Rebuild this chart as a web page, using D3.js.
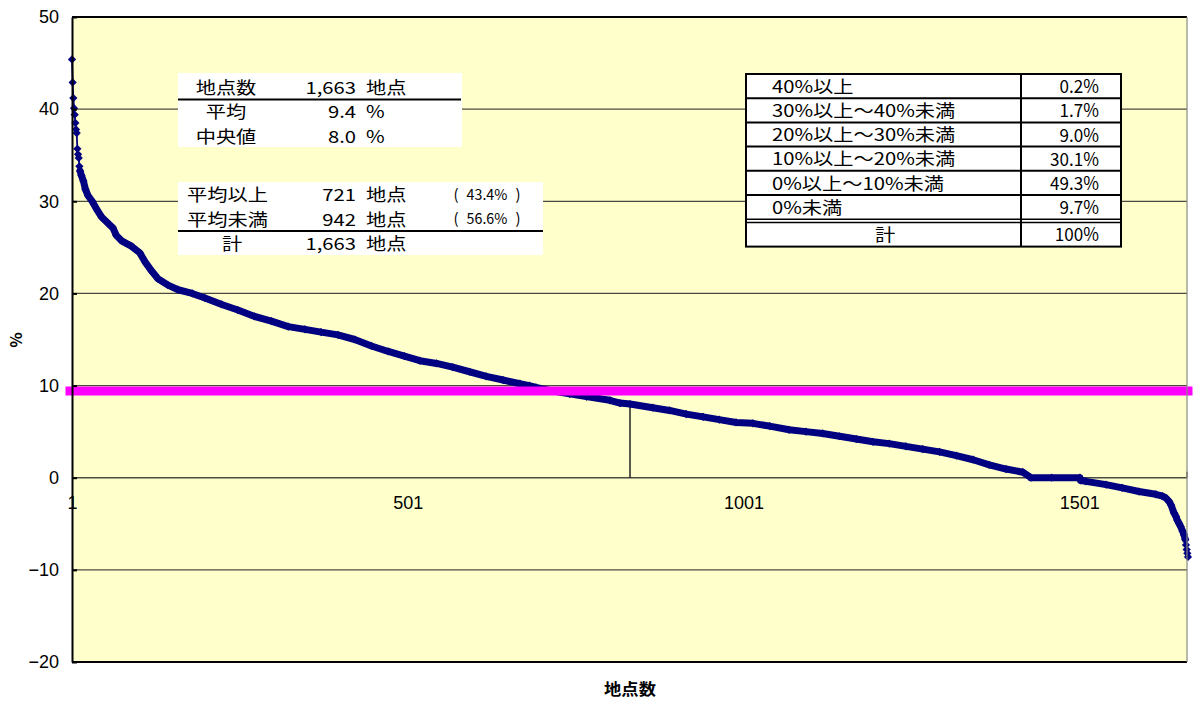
<!DOCTYPE html>
<html>
<head>
<meta charset="utf-8">
<script src="https://cdn.jsdelivr.net/npm/d3@7"></script>
<style>
  html, body { margin: 0; padding: 0; background: #fff; }
  svg { display: block; }
</style>
</head>
<body>
<svg id="chart" width="1195" height="702"></svg>
<script>
// Sites ranked by rate of change (descending) and the rate at each rank (%)
const siteRank = [
  1, 2, 3, 4, 5, 6, 7, 8, 9, 10, 11, 12, 13, 15, 18, 21, 25, 31, 38, 45,
  55, 62, 67, 75, 90, 102, 110, 120, 129, 144, 159, 180, 199, 224, 248, 273, 298, 323, 348, 372,
  397, 422, 447, 472, 496, 519, 544, 568, 593, 618, 643, 668, 682, 692, 717, 742, 767, 802, 817, 832,
  866, 891, 916, 941, 965, 990, 1015, 1040, 1069, 1094, 1119, 1144, 1169, 1194, 1218, 1243, 1268, 1293, 1318, 1343,
  1367, 1392, 1417, 1429, 1460, 1502, 1503, 1511, 1541, 1565, 1590, 1615, 1625, 1630, 1635, 1638, 1642, 1645, 1647, 1650,
  1652, 1655, 1657, 1659, 1660, 1661, 1662, 1663
];
const changeRate = [
  45.4, 42.9, 41.2, 40.1, 39.4, 38.5, 37.8, 37.4, 35.7, 35.1, 34.7, 33.8, 33.3, 32.8, 32.2, 31.3, 30.6, 30.0, 29.1, 28.3,
  27.6, 27.1, 26.3, 25.7, 25.1, 24.4, 23.4, 22.4, 21.6, 20.9, 20.4, 20.0, 19.5, 18.8, 18.2, 17.5, 17.0, 16.4, 16.1, 15.8,
  15.5, 15.0, 14.3, 13.7, 13.2, 12.7, 12.4, 12.0, 11.5, 11.0, 10.6, 10.2, 10.0, 9.8, 9.4, 9.1, 8.8, 8.4, 8.1, 8.0,
  7.6, 7.3, 6.9, 6.6, 6.3, 6.0, 5.9, 5.6, 5.2, 5.0, 4.8, 4.5, 4.2, 3.9, 3.7, 3.4, 3.1, 2.8, 2.4, 1.95,
  1.4, 0.94, 0.6, 0.0, 0.0, 0.0, -0.3, -0.4, -0.75, -1.1, -1.5, -1.8, -2.0, -2.2, -2.6, -3.0, -3.8, -4.2, -4.6, -5.0,
  -5.3, -5.8, -6.2, -6.7, -7.3, -7.8, -8.2, -8.6
];

const siteCount = 1663;
const meanRate = 9.4;
const medianRate = 8.0;
const medianRank = 832;

const yTickValues = [-20, -10, 0, 10, 20, 30, 40, 50];
const gridValues = [-10, 10, 20, 30, 40];
const xTickValues = [1, 501, 1001, 1501];

// Summary box
const summaryLabels = ["地点数", "平均", "中央値"];
const summaryValues = ["1,663", "9.4", "8.0"];
const summaryUnits = ["地点", "%", "%"];

// Above / below the mean
const splitLabels = ["平均以上", "平均未満", "計"];
const splitCounts = ["721", "942", "1,663"];
const splitShares = ["43.4%", "56.6%", ""];

// Share of sites in each band
const bandLabels = ["40%以上", "30%以上～40%未満", "20%以上～30%未満", "10%以上～20%未満", "0%以上～10%未満", "0%未満", "計"];
const bandShares = ["0.2%", "1.7%", "9.0%", "30.1%", "49.3%", "9.7%", "100%"];

const svg = d3.select("#chart");
const JP = "'Noto Sans CJK JP', 'Noto Sans', sans-serif";
const AR = "'Liberation Sans', Arial, sans-serif";

const plot = { left: 72, right: 1187, top: 17, bottom: 662 };

const x = d3.scaleLinear().domain([1, siteCount]).range([72, 1188]);
const y = d3.scaleLinear().domain([-20, 50]).range([plot.bottom, plot.top]);

// plot area
svg.append("rect")
  .attr("x", plot.left).attr("y", plot.top)
  .attr("width", plot.right - plot.left).attr("height", plot.bottom - plot.top)
  .attr("fill", "#FFFFCC");

// x axis labels (under everything else)
const xAxis = svg.append("g")
  .attr("transform", `translate(0,${y(0)})`)
  .call(d3.axisBottom(x).tickValues(xTickValues).tickSize(0).tickPadding(19).tickFormat(d3.format("d")));
xAxis.select(".domain").remove();
xAxis.selectAll(".tick text")
  .attr("font-family", AR).attr("font-size", 18).attr("fill", "#000");

// horizontal gridlines
svg.append("g").selectAll("line").data(gridValues).join("line")
  .attr("x1", plot.left).attr("x2", plot.right)
  .attr("y1", d => y(d)).attr("y2", d => y(d))
  .attr("stroke", "#4a4a42").attr("stroke-width", 1.2);

// zero line (category axis)
svg.append("line")
  .attr("x1", plot.left).attr("x2", plot.right)
  .attr("y1", y(0)).attr("y2", y(0))
  .attr("stroke", "#4a4a42").attr("stroke-width", 1.4);
svg.append("line")
  .attr("x1", plot.right).attr("x2", plot.right)
  .attr("y1", y(0) - 6).attr("y2", y(0))
  .attr("stroke", "#333").attr("stroke-width", 1.2);

// median drop line
svg.append("line")
  .attr("x1", x(medianRank)).attr("x2", x(medianRank))
  .attr("y1", y(medianRate)).attr("y2", y(0))
  .attr("stroke", "#222").attr("stroke-width", 1.5);

// ranked curve
const pts = siteRank.map((r, i) => ({ r, v: changeRate[i] }));
const line = d3.line().x(d => x(d.r)).y(d => y(d.v));
const navy = "#000080";

svg.append("path")
  .attr("d", line(pts))
  .attr("fill", "none").attr("stroke", navy).attr("stroke-width", 1.8);

// where many sites lie between two readings, their markers merge into a band
const bandPairs = [];
for (let i = 1; i < pts.length; i++) {
  if (pts[i].r - pts[i - 1].r > 1) bandPairs.push([pts[i - 1], pts[i]]);
}
svg.append("path")
  .attr("d", bandPairs.map(p => line(p)).join(""))
  .attr("fill", "none").attr("stroke", navy).attr("stroke-width", 7)
  .attr("stroke-linecap", "round").attr("stroke-linejoin", "round");

const diamond = d3.symbol(d3.symbolSquare, 34);
svg.append("g").selectAll("path").data(pts).join("path")
  .attr("d", diamond)
  .attr("transform", d => `translate(${x(d.r)},${y(d.v)}) rotate(45)`)
  .attr("fill", navy);

// mean line
svg.append("line")
  .attr("x1", x(1) - 2).attr("x2", x(siteCount))
  .attr("y1", y(meanRate)).attr("y2", y(meanRate))
  .attr("stroke", "#FF00FF").attr("stroke-width", 9)
  .attr("stroke-linecap", "square");

// y axis
const yAxis = svg.append("g")
  .attr("transform", `translate(${plot.left},0)`)
  .call(d3.axisLeft(y).tickValues(yTickValues).tickSizeInner(-5).tickSizeOuter(0).tickPadding(13));
yAxis.select(".domain").attr("stroke", "#000").attr("stroke-width", 2);
yAxis.selectAll(".tick line").attr("stroke", "#000").attr("stroke-width", 2);
yAxis.selectAll(".tick text")
  .attr("font-family", AR).attr("font-size", 18).attr("fill", "#000");

// plot border
svg.append("line").attr("x1", plot.left).attr("x2", plot.right).attr("y1", plot.top).attr("y2", plot.top)
  .attr("stroke", "#000").attr("stroke-width", 2);
svg.append("line").attr("x1", plot.left).attr("x2", plot.right).attr("y1", plot.bottom).attr("y2", plot.bottom)
  .attr("stroke", "#000").attr("stroke-width", 2);
svg.append("line").attr("x1", plot.right).attr("x2", plot.right).attr("y1", plot.top).attr("y2", plot.bottom)
  .attr("stroke", "#8a8a80").attr("stroke-width", 1.2);

// axis titles
svg.append("text")
  .attr("transform", "translate(16,340) rotate(-90)")
  .attr("text-anchor", "middle").attr("dy", "0.37em")
  .attr("font-family", JP).attr("font-size", 16).attr("font-weight", "bold")
  .text("%");
svg.append("text")
  .attr("transform", "translate(630,689) scale(1.08,1)")
  .attr("text-anchor", "middle").attr("dy", "0.38em")
  .attr("font-family", JP).attr("font-size", 16).attr("font-weight", "bold")
  .text("地点数");

// text helper for the boxes
function put(g, str, px, py, anchor, size = 17, sx = 1.19, family = JP) {
  g.append("text")
    .attr("transform", `translate(${px},${py}) scale(${sx},1)`)
    .attr("text-anchor", anchor).attr("dy", "0.37em")
    .attr("font-family", family).attr("font-size", size)
    .attr("fill", "#000")
    .text(str);
}

// summary box
const box1 = svg.append("g");
box1.append("rect").attr("x", 178).attr("y", 73).attr("width", 284).attr("height", 74).attr("fill", "#fff");
box1.append("line").attr("x1", 178).attr("x2", 461).attr("y1", 99.5).attr("y2", 99.5)
  .attr("stroke", "#000").attr("stroke-width", 2);
const rows1 = [87.5, 112, 136.5];
summaryLabels.forEach((s, i) => {
  put(box1, s, 226, rows1[i], "middle");
  put(box1, summaryValues[i], 356, rows1[i], "end");
  put(box1, summaryUnits[i], 366, rows1[i], "start");
});

// above/below box
const box2 = svg.append("g");
box2.append("rect").attr("x", 178).attr("y", 182).attr("width", 365).attr("height", 73).attr("fill", "#fff");
box2.append("line").attr("x1", 178).attr("x2", 543).attr("y1", 231).attr("y2", 231)
  .attr("stroke", "#000").attr("stroke-width", 2);
const rows2 = [195, 219.5, 244];
splitLabels.forEach((s, i) => {
  if (i < 2) put(box2, s, 187, rows2[i], "start");
  else put(box2, s, 232, rows2[i], "middle");
  put(box2, splitCounts[i], 356, rows2[i], "end");
  put(box2, "地点", 366, rows2[i], "start");
  if (splitShares[i]) {
    put(box2, "(", 456, rows2[i] - 1, "middle", 15, 1);
    put(box2, splitShares[i], 487, rows2[i] - 1, "middle", 15, 0.95);
    put(box2, ")", 518, rows2[i] - 1, "middle", 15, 1);
  }
});

// band share table
const tbl = svg.append("g");
const tL = 746, tR = 1121, tC = 1021, tTop = 74, rowH = 24.2;
const totalTop = tTop + rowH * 6 + 3.4, tBottom = totalTop + 24;
tbl.append("rect").attr("x", tL).attr("y", tTop).attr("width", tR - tL).attr("height", tBottom - tTop)
  .attr("fill", "#fff").attr("stroke", "#000").attr("stroke-width", 2);
for (let i = 1; i <= 6; i++) {
  tbl.append("line").attr("x1", tL).attr("x2", tR)
    .attr("y1", tTop + rowH * i).attr("y2", tTop + rowH * i)
    .attr("stroke", "#000").attr("stroke-width", i === 6 ? 1.5 : 2);
}
tbl.append("line").attr("x1", tL).attr("x2", tR).attr("y1", totalTop).attr("y2", totalTop)
  .attr("stroke", "#000").attr("stroke-width", 1.5);
tbl.append("line").attr("x1", tC).attr("x2", tC).attr("y1", tTop).attr("y2", tBottom)
  .attr("stroke", "#000").attr("stroke-width", 2);
bandLabels.forEach((s, i) => {
  const cy = i < 6 ? tTop + rowH * (i + 0.5) + 0.5 : (totalTop + tBottom) / 2;
  if (i < 6) put(tbl, s, 772, cy, "start");
  else put(tbl, s, 885, cy, "middle");
  put(tbl, bandShares[i], 1099, cy, "end", 18, 0.95);
});
</script>
</body>
</html>
